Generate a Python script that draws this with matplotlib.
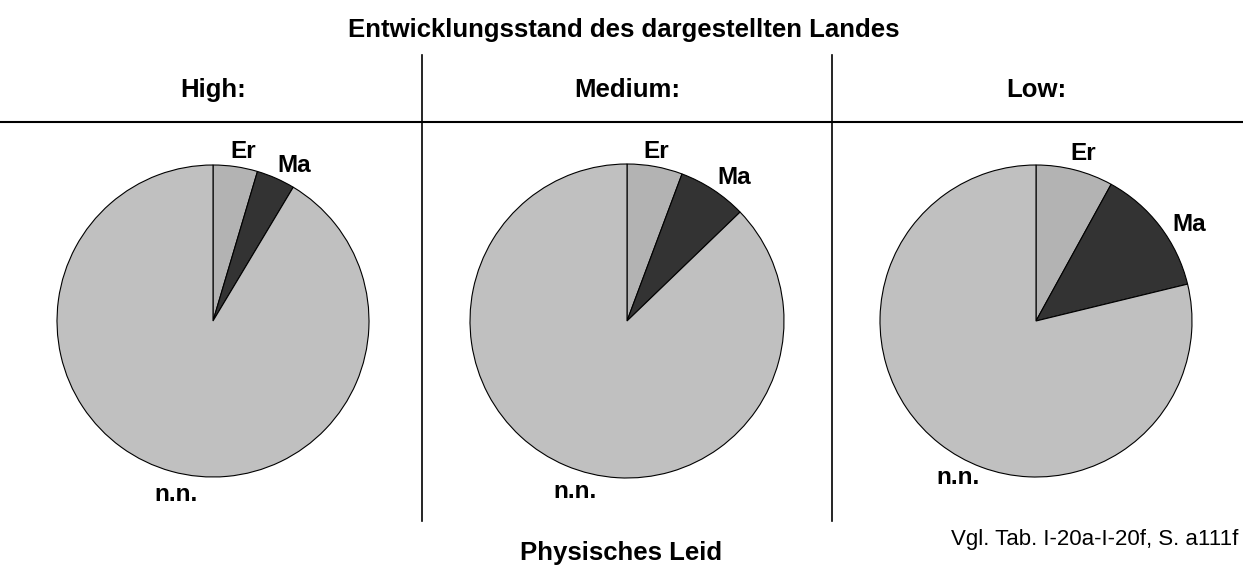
import matplotlib.pyplot as plt

plt.rcParams['font.family'] = ['Liberation Sans', 'DejaVu Sans']

W, H = 1243, 574

# shares per development level (percent)
levels = ["High:", "Medium:", "Low:"]
slice_labels = ["Er", "Ma", "n.n."]
er_share = [4.6, 5.7, 8.0]
ma_share = [4.0, 7.1, 13.2]
nn_share = [91.4, 87.2, 78.8]

slice_colors = ["#b3b3b3", "#333333", "#c0c0c0"]

# layout in pixels (centre x, centre y from top, radius)
centres = [(213, 321, 156), (627, 321, 157), (1036, 321, 156)]
K = 1.3
# nudges (px, right / down) for the slice labels, like the original placement
label_nudge = [
    [(5, 5), (10, 6), (10, 4)],
    [(-2, 5), (10, 5), (17, 7)],
    [(3, 3), (13, 11), (31, 18)],
]

fig = plt.figure(figsize=(W / 100, H / 100), dpi=100)

# overlay for rules and text, in pixel coordinates
bg = fig.add_axes([0, 0, 1, 1])
bg.set_xlim(0, W)
bg.set_ylim(H, 0)
bg.axis('off')

bg.text(624, 30, "Entwicklungsstand des dargestellten Landes", ha='center', va='center',
        fontsize=18.5, fontweight='bold')
bg.plot([0, W], [122, 122], color='black', lw=1.5)
for x in (422, 832):
    bg.plot([x, x], [55, 521], color='black', lw=1.2)

bg.text(621, 553, "Physisches Leid", ha='center', va='center', fontsize=18.5, fontweight='bold')
bg.text(1238, 540, "Vgl. Tab. I-20a-I-20f, S. a111f", ha='right', va='center', fontsize=16)

for i, (cx, cy, r) in enumerate(centres):
    bg.text(cx, 90, levels[i], ha='center', va='center', fontsize=18.5, fontweight='bold')

    size = 2 * r * K
    ax = fig.add_axes([(cx - size / 2) / W, (H - cy - size / 2) / H, size / W, size / H])
    vals = [er_share[i], ma_share[i], nn_share[i]]
    wedges, texts = ax.pie(vals, labels=slice_labels, colors=slice_colors, startangle=90,
                           counterclock=False, labeldistance=1.13,
                           wedgeprops=dict(edgecolor='black', linewidth=0.8))
    for t, (dx, dy) in zip(texts, label_nudge[i]):
        x, y = t.get_position()
        t.set_position((x + dx / r, y - dy / r))
        t.set_ha('center')
        t.set_va('center')
        t.set_fontsize(17.5)
        t.set_fontweight('bold')
    ax.set_xlim(-K, K)
    ax.set_ylim(-K, K)
    ax.set_aspect('equal')
    ax.axis('off')

fig.savefig("out.png", dpi=100)
